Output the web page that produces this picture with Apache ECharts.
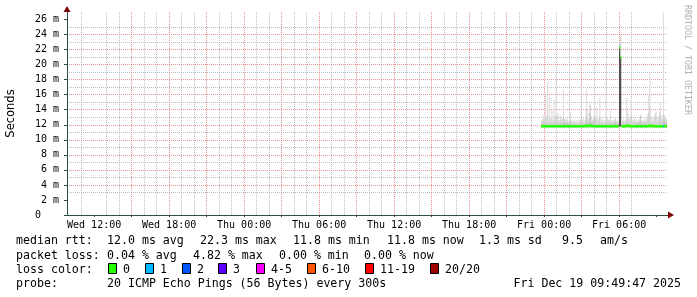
<!DOCTYPE html>
<html><head><meta charset="utf-8">
<script src="https://cdn.jsdelivr.net/npm/echarts@6/dist/echarts.min.js"></script>
<style>html,body{margin:0;padding:0;background:#fff}#c{width:697px;height:297px}</style>
</head><body><div id="c"></div>
<script>
// ---------------- data ----------------
// time axis in hours since Wed 00:00
const X_START_HOUR = 9 + 49 / 60 + 47 / 3600;   // Wed 09:49:47
const X_END_HOUR = X_START_HOUR + 48;            // Fri 09:49:47
const FIRST_STEP_HOUR = 47.75;                   // Thu 23:45
const STEP_HOURS = 5 / 60;                       // 300 s

const xLabelHours = [12, 18, 24, 30, 36, 42, 48, 54];
const xLabelText = ['Wed 12:00', 'Wed 18:00', 'Thu 00:00', 'Thu 06:00', 'Thu 12:00', 'Thu 18:00', 'Fri 00:00', 'Fri 06:00'];
const yLabelValues = [0, 2, 4, 6, 8, 10, 12, 14, 16, 18, 20, 22, 24, 26];

// ms, one value per 5-minute step
const pingMin = [
 11.6,11.6,11.7,11.6,11.6,11.7,11.6,11.6,11.6,11.7,
 11.6,11.6,11.7,11.6,11.6,11.6,11.7,11.6,11.6,11.6,
 11.7,11.6,11.6,11.6,11.7,11.6,11.6,11.6,11.6,11.7,
 11.6,11.6,11.6,11.7,11.6,11.6,11.6,11.7,11.6,11.6,
 11.6,11.7,11.6,11.6,11.6,11.6,11.7,11.6,11.6,11.6,
 11.7,11.6,11.6,11.6,11.6,11.7,11.6,11.6,11.6,11.6,
 11.7,11.6,11.6,11.6,11.7,11.6,11.6,11.6,11.6,11.7,
 11.6,11.6,11.6,11.7,11.6,11.7,11.8,11.6,11.6,11.6,
 11.7,11.6,11.6,11.6,11.6,11.7,11.6,11.6,11.6,11.7,
 11.6,11.6,11.6,11.6,11.7,11.6,11.6,11.6,11.7,11.6,
 11.6,11.6,11.7,11.6,11.6,11.6,11.6,11.7,11.6,11.6,
 11.6,11.7,11.6,11.6,11.6,11.6,11.7,11.6,11.6,11.6,
 11.6];
const pingMid = [
 12.3,12.3,12.5,12.4,13.0,12.4,13.5,12.3,12.8,12.4,
 12.6,12.3,12.7,12.4,13.2,12.3,12.6,12.3,12.5,12.3,
 12.3,13.0,12.4,12.3,12.3,12.3,12.2,12.4,12.6,12.3,
 12.2,12.3,12.3,12.2,12.3,12.2,12.3,12.3,12.8,12.3,
 12.4,12.3,12.4,13.2,12.7,12.3,13.5,13.6,12.4,12.3,
 12.5,13.0,12.3,12.8,12.3,12.4,13.0,12.3,12.4,12.3,
 12.2,12.3,12.8,12.4,12.3,12.3,12.7,12.3,12.2,12.3,
 12.3,12.4,12.2,12.3,12.3,22.8,23.6,12.3,12.3,12.4,
 12.3,12.3,14.3,12.8,12.4,12.5,13.0,12.3,12.3,12.4,
 12.3,12.3,12.2,12.3,12.4,13.3,12.3,12.2,12.3,12.3,
 12.4,12.4,12.7,13.6,14.5,12.5,12.4,12.3,12.4,13.5,
 13.0,12.3,12.4,13.0,13.4,12.5,12.4,13.5,12.5,12.4,
 12.4];
const pingMax = [
 12.6,12.7,13.3,12.9,16.2,13.1,17.8,12.8,15.8,13.0,
 14.0,12.7,15.3,13.2,18.7,12.9,13.6,12.6,13.3,12.8,
 12.7,16.7,12.9,12.6,12.8,12.7,12.5,12.9,13.6,12.6,
 12.5,12.7,12.6,12.4,12.6,12.5,12.7,12.6,17.3,12.7,
 13.0,12.6,12.8,16.7,13.9,12.8,14.7,14.7,12.9,12.7,
 13.2,15.1,12.8,14.4,12.7,12.9,15.6,12.6,13.0,12.6,
 12.5,12.7,20.3,13.0,12.6,12.7,13.8,12.6,12.5,12.7,
 12.6,13.0,12.5,12.7,12.6,23.0,24.2,12.7,12.6,12.8,
 12.6,12.7,15.6,13.6,12.8,13.1,15.3,12.7,12.6,13.0,
 12.6,12.7,12.5,12.6,12.8,13.3,12.6,12.5,12.7,12.6,
 12.8,12.9,13.4,16.0,18.9,13.2,13.0,12.7,12.8,13.5,
 13.8,12.7,12.9,13.7,14.9,13.2,12.8,26.9,13.3,13.0,
 12.8];
// dense (dark) smoke top, only where pings were spread widely
const denseTop = [];
denseTop[75] = 22.3; denseTop[76] = 21.0;
const medianRtt = [
 11.8,11.8,11.8,11.8,11.8,11.8,11.8,11.8,11.8,11.8,
 11.8,11.8,11.8,11.8,11.8,11.8,11.8,11.8,11.8,11.8,
 11.8,11.8,11.8,11.8,11.8,11.8,11.8,11.8,11.8,11.8,
 11.8,11.8,11.8,11.8,11.8,11.8,11.8,11.8,11.8,11.8,
 11.8,11.8,11.8,11.9,11.8,11.8,11.9,11.9,11.8,11.8,
 11.8,11.8,11.8,11.8,11.8,11.8,11.8,11.8,11.8,11.8,
 11.8,11.8,11.8,11.8,11.8,11.8,11.8,11.8,11.8,11.8,
 11.8,11.8,11.8,11.8,11.8,22.3,21.0,11.8,11.8,11.8,
 11.8,11.8,11.9,11.8,11.8,11.8,11.8,11.8,11.8,11.8,
 11.8,11.8,11.8,11.8,11.8,11.8,11.8,11.8,11.8,11.8,
 11.8,11.8,11.8,11.8,11.9,11.8,11.8,11.8,11.8,11.8,
 11.8,11.8,11.8,11.8,11.8,11.8,11.8,11.8,11.8,11.8,
 11.8];
const lossCount = [];
for (let i = 0; i < medianRtt.length; i++) lossCount.push(0);
lossCount[117] = 1;

const lossLegendLabels = ['0', '1', '2', '3', '4-5', '6-10', '11-19', '20/20'];
const lossLegendColors = ['#26ff00', '#00b8ff', '#0059ff', '#5e00ff', '#ff00ff', '#ff5500', '#ff0000', '#a10000'];
const lossUpper = [0, 1, 2, 3, 5, 10, 19, 20];

const rttStats = ['12.0 ms avg', '22.3 ms max', '11.8 ms min', '11.8 ms now', '1.3 ms sd', '9.5', 'am/s'];
const lossStats = ['0.04 % avg', '4.82 % max', '0.00 % min', '0.00 % now'];
const probeText = '20 ICMP Echo Pings (56 Bytes) every 300s';
const stampText = 'Fri Dec 19 09:49:47 2025';

// ---------------- build ----------------
const N = medianRtt.length;
const tAt = i => FIRST_STEP_HOUR + i * STEP_HOURS;
const smokeItems = [];
for (let i = 0; i < N; i++) {
  const b = pingMin[i];
  const dTop = denseTop[i] != null ? denseTop[i] : b;
  const mTop = Math.max(pingMid[i], dTop);
  const lTop = Math.max(pingMax[i], mTop);
  smokeItems.push([tAt(i), tAt(i + 1), b, dTop, mTop, lTop]);
}
const SMOKE_COLORS = ['#383838', '#c6c6c6', '#dadada'];
function renderSmoke(params, api) {
  const cs = params.coordSys;
  const clip = { x: cs.x, y: cs.y, width: cs.width, height: cs.height };
  const x0 = api.value(0), x1 = api.value(1);
  const children = [];
  for (let k = 0; k < 3; k++) {
    const lo = api.value(2 + k), hi = api.value(3 + k);
    if (!(hi > lo)) continue;
    const p0 = api.coord([x0, hi]), p1 = api.coord([x1, lo]);
    const shape = echarts.graphic.clipRectByRect(
      { x: p0[0], y: p0[1], width: p1[0] - p0[0], height: p1[1] - p0[1] }, clip);
    if (shape) children.push({ type: 'rect', shape, style: { fill: SMOKE_COLORS[k] } });
  }
  return { type: 'group', children };
}
// median as horizontal segments, broken at big jumps
const medData = [];
for (let i = 0; i < N; i++) {
  medData.push([tAt(i), medianRtt[i]]);
  medData.push([tAt(i + 1), medianRtt[i]]);
  if (i < N - 1 && Math.abs(medianRtt[i + 1] - medianRtt[i]) > 1) medData.push([tAt(i + 1), null]);
}
const lossSeries = [];
for (let k = 1; k < lossUpper.length; k++) {
  const d = [];
  for (let i = 0; i < N; i++) {
    const c = lossCount[i];
    if (c > lossUpper[k - 1] && c <= lossUpper[k]) {
      d.push([tAt(i), medianRtt[i]], [tAt(i + 1), medianRtt[i]], [tAt(i + 1), null]);
    }
  }
  if (d.length) lossSeries.push({ type: 'line', xAxisIndex: 0, yAxisIndex: 0, data: d, symbol: 'none', z: 6,
    lineStyle: { color: lossLegendColors[k], width: 2.6, cap: 'butt' } });
}
const xMinorHours = [], xMajorHours = [];
for (let h = Math.ceil(X_START_HOUR); h <= Math.floor(X_END_HOUR); h++) {
  (h % 3 === 0 ? xMajorHours : xMinorHours).push(h);
}
const yMinor = [], yMajor = [];
for (let v = 1; v <= 27; v++) { (v % 2 === 0 ? yMajor : yMinor).push(v); }

const MONO = "'DejaVu Sans Mono', monospace";
const AX = '#2C4D43';
const GRIDC = 'rgba(160,160,160,0.7)';
const MGRIDC = 'rgba(230,100,100,0.7)';

// legend texts
const LEG_FONT = '11.6px ' + MONO;
const g = [];
function txt(x, y, s) {
  g.push({ type: 'text', x, y, silent: true,
    style: { text: s, font: LEG_FONT, fill: '#000', verticalAlign: 'middle', align: 'left' } });
}
txt(16, 241, 'median rtt:');
[107, 200, 293, 387, 479, 562, 600].forEach((x, k) => txt(x, 241, rttStats[k]));
txt(16, 256, 'packet loss:');
[107, 193, 279, 364].forEach((x, k) => txt(x, 256, lossStats[k]));
txt(16, 270, 'loss color:');
[123, 160, 197, 233, 271, 322, 380, 445].forEach((x, k) => {
  g.push({ type: 'rect', silent: true, shape: { x: x - 15 + 0.5, y: 263.5, width: 8, height: 10 },
    style: { fill: lossLegendColors[k], stroke: '#000', lineWidth: 1 } });
  txt(x, 270, lossLegendLabels[k]);
});
txt(16, 284, 'probe:');
txt(107, 284, probeText);
g.push({ type: 'text', x: 681, y: 284, silent: true,
  style: { text: stampText, font: LEG_FONT, fill: '#000', verticalAlign: 'middle', align: 'right' } });
g.push({ type: 'text', x: 687, y: 5, rotation: -Math.PI / 2, silent: true,
  style: { text: 'RRDTOOL / TOBI OETIKER', font: '8.3px ' + MONO, fill: '#b0b0b0', verticalAlign: 'middle', align: 'left' } });

const PLOT = { left: 67, right: 30, top: 12, bottom: 82, outerBoundsMode: 'none', containLabel: false };
function gridAxis(grid, min, max, values, color) {
  return { type: 'value', gridIndex: grid, min, max, z: 1,
    axisLine: { show: false, onZero: false }, axisLabel: { show: false },
    axisTick: { show: false, customValues: values },
    splitLine: { show: true, showMinLine: false, showMaxLine: false, lineStyle: { color, type: [1, 1], width: 1 } } };
}
const option = {
  animation: false,
  backgroundColor: '#ffffff',
  grid: [
    Object.assign({}, PLOT),
    { left: 67, right: 26, top: 9, bottom: 82, outerBoundsMode: 'none', containLabel: false },
    Object.assign({}, PLOT),
    Object.assign({}, PLOT)
  ],
  xAxis: [
    { type: 'value', gridIndex: 0, min: X_START_HOUR, max: X_END_HOUR, z: 5,
      axisLine: { show: true, onZero: false, lineStyle: { color: AX, width: 1 } },
      axisTick: { show: true, customValues: xMajorHours, length: 2, lineStyle: { color: AX } },
      axisLabel: { customValues: xLabelHours, margin: 5, fontFamily: MONO, fontSize: 10, color: '#000',
        formatter: v => xLabelText[xLabelHours.indexOf(v)] || '' },
      splitLine: { show: false } },
    { type: 'value', gridIndex: 1, min: 0, max: 1, z: 1,
      axisLine: { show: true, onZero: false, symbol: ['none', 'triangle'], symbolSize: [7, 6], lineStyle: { color: '#7F0000', width: 1 } },
      axisTick: { show: false }, axisLabel: { show: false }, splitLine: { show: false } },
    gridAxis(2, X_START_HOUR, X_END_HOUR, xMinorHours, GRIDC),
    gridAxis(3, X_START_HOUR, X_END_HOUR, xMajorHours, MGRIDC)
  ],
  yAxis: [
    { type: 'value', gridIndex: 0, min: 0, max: 27, z: 5,
      name: 'Seconds', nameLocation: 'middle', nameRotate: 90, nameGap: 50,
      nameTextStyle: { fontFamily: "'DejaVu Sans', sans-serif", fontSize: 11.5, color: '#000' },
      axisLine: { show: true, onZero: false, lineStyle: { color: AX, width: 1 } },
      axisTick: { show: true, customValues: yLabelValues, length: 3, lineStyle: { color: AX } },
      axisLabel: { customValues: yLabelValues, margin: 8, fontFamily: MONO, fontSize: 10, color: '#000',
        formatter: v => v === 0 ? '0   ' : v + ' m' },
      splitLine: { show: false } },
    { type: 'value', gridIndex: 1, min: 0, max: 1, z: 1,
      axisLine: { show: true, onZero: false, symbol: ['none', 'triangle'], symbolSize: [7, 6], lineStyle: { color: '#7F0000', width: 1 } },
      axisTick: { show: false }, axisLabel: { show: false }, splitLine: { show: false } },
    gridAxis(2, 0, 27, yMinor, GRIDC),
    gridAxis(3, 0, 27, yMajor, MGRIDC)
  ],
  series: [
    { name: 'smoke', type: 'custom', xAxisIndex: 0, yAxisIndex: 0, renderItem: renderSmoke,
      data: smokeItems, encode: { x: [0, 1], y: [2, 5] }, z: 2, silent: true },
    { name: 'median', type: 'line', xAxisIndex: 0, yAxisIndex: 0, data: medData, symbol: 'none', z: 5,
      lineStyle: { color: lossLegendColors[0], width: 2.6, cap: 'butt' } }
  ].concat(lossSeries),
  graphic: { elements: g }
};
const chart = echarts.init(document.getElementById('c'), null, { renderer: 'canvas' });
chart.setOption(option);
</script></body></html>
